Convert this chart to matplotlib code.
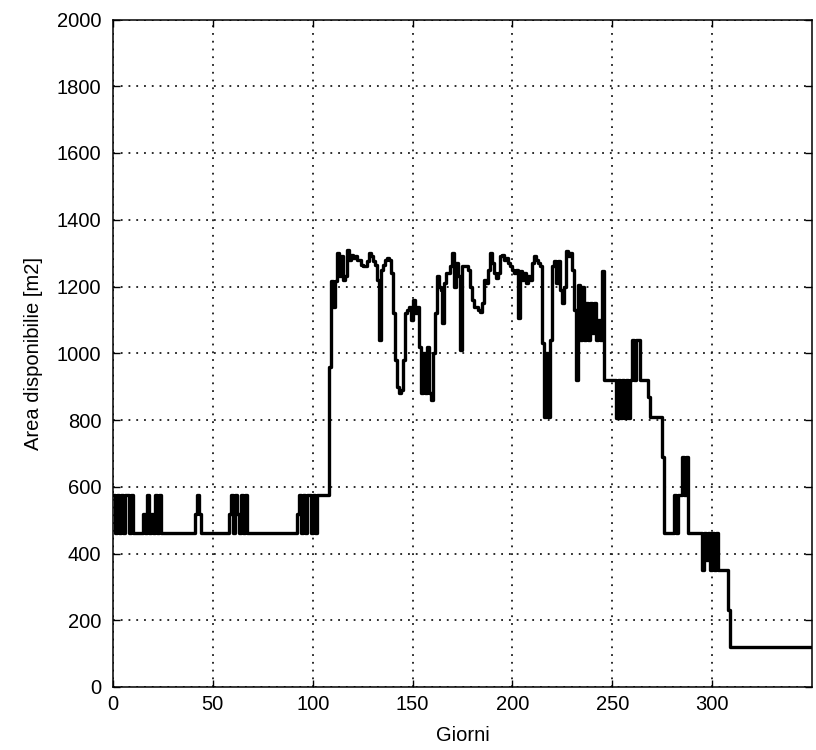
import numpy as np
import matplotlib
matplotlib.use("Agg")
import matplotlib.pyplot as plt

plt.rcParams["font.family"] = ["Liberation Sans", "DejaVu Sans"]

# Available area per day [m2], split in three phases
# days 0-107: low season, switching between 460 and 575
area_low = [
    575, 460, 575, 460, 575, 460, 575, 575, 460, 575,
    460, 460, 460, 460, 460, 518, 460, 575, 460, 518,
    460, 575, 460, 575, 460, 460, 460, 460, 460, 460,
    460, 460, 460, 460, 460, 460, 460, 460, 460, 460,
    460, 518, 575, 518, 460, 460, 460, 460, 460, 460,
    460, 460, 460, 460, 460, 460, 460, 460, 518, 575,
    460, 575, 518, 460, 575, 460, 575, 460, 460, 460,
    460, 460, 460, 460, 460, 460, 460, 460, 460, 460,
    460, 460, 460, 460, 460, 460, 460, 460, 460, 460,
    460, 460, 518, 575, 460, 575, 460, 575, 575, 460,
    575, 460, 575, 575, 575, 575, 575, 575,
]

# days 108-245: high season
area_high = [
    960, 1215, 1140, 1215, 1300, 1230, 1290, 1220, 1230, 1310,
    1280, 1295, 1285, 1290, 1280, 1280, 1265, 1260, 1260, 1275,
    1300, 1290, 1275, 1265, 1220, 1040, 1250, 1265, 1280, 1285,
    1280, 1240, 1120, 980, 900, 880, 890, 980, 1120, 1130,
    1140, 1100, 1160, 1120, 1140, 1020, 880, 1000, 880, 1020,
    880, 860, 1000, 1120, 1230, 1200, 1190, 1090, 1210, 1240,
    1240, 1260, 1300, 1200, 1270, 1230, 1010, 1260, 1260, 1260,
    1250, 1200, 1160, 1140, 1140, 1130, 1125, 1150, 1220, 1210,
    1250, 1300, 1270, 1240, 1225, 1240, 1290, 1295, 1280, 1285,
    1270, 1260, 1250, 1240, 1250, 1105, 1245, 1220, 1240, 1210,
    1230, 1220, 1270, 1290, 1280, 1270, 1260, 1030, 810, 1000,
    810, 1040, 1260, 1275, 1210, 1275, 1190, 1150, 1200, 1305,
    1290, 1300, 1250, 1130, 920, 1205, 1040, 1200, 1040, 1150,
    1040, 1150, 1060, 1150, 1040, 1100, 1040, 1245,
]

# days 246-350: decline to the end of the year
area_decline = [
    920, 920, 920, 920, 920, 920, 805, 920, 805, 920,
    805, 920, 805, 920, 1040, 920, 1040, 1040, 920, 920,
    920, 920, 870, 810, 810, 810, 810, 810, 810, 690,
    460, 460, 460, 460, 460, 575, 460, 575, 575, 690,
    575, 690, 460, 460, 460, 460, 460, 460, 460, 350,
    460, 380, 460, 350, 460, 350, 460, 350, 350, 350,
    350, 350, 230, 120, 120, 120, 120, 120, 120, 120,
] + [120] * 35

area = np.array(area_low + area_high + area_decline)
days = np.arange(len(area))

x_ticks = [0, 50, 100, 150, 200, 250, 300]
y_ticks = [0, 200, 400, 600, 800, 1000, 1200, 1400, 1600, 1800, 2000]

fig = plt.figure(figsize=(8.16, 7.5), dpi=100)
ax = fig.add_axes([0.1385, 0.084, 0.8565, 0.89])

# daily values held constant over the day
ax.plot(days, area, color="k", linewidth=2.4, drawstyle="steps-post")

ax.set_xlim(0, 350)
ax.set_ylim(0, 2000)
ax.set_xticks(x_ticks)
ax.set_yticks(y_ticks)

# dotted grid, MATLAB style
ax.grid(True, color="0.1", linewidth=1.3, linestyle=(0, (1, 3.3)))
ax.set_axisbelow(True)

for s in ax.spines.values():
    s.set_linewidth(1.1)

ax.tick_params(direction="in", length=5, width=1, top=True, right=True,
               labelsize=14.5)
ax.tick_params(axis="x", pad=6)
ax.tick_params(axis="y", pad=8.5)

ax.set_xlabel("Giorni", fontsize=14.5)
ax.set_ylabel("Area disponibilie [m2]", fontsize=14.5)
ax.xaxis.set_label_coords(0.5, -0.058)
ax.yaxis.set_label_coords(-0.1, 0.5)

fig.savefig("out.png", dpi=100)
